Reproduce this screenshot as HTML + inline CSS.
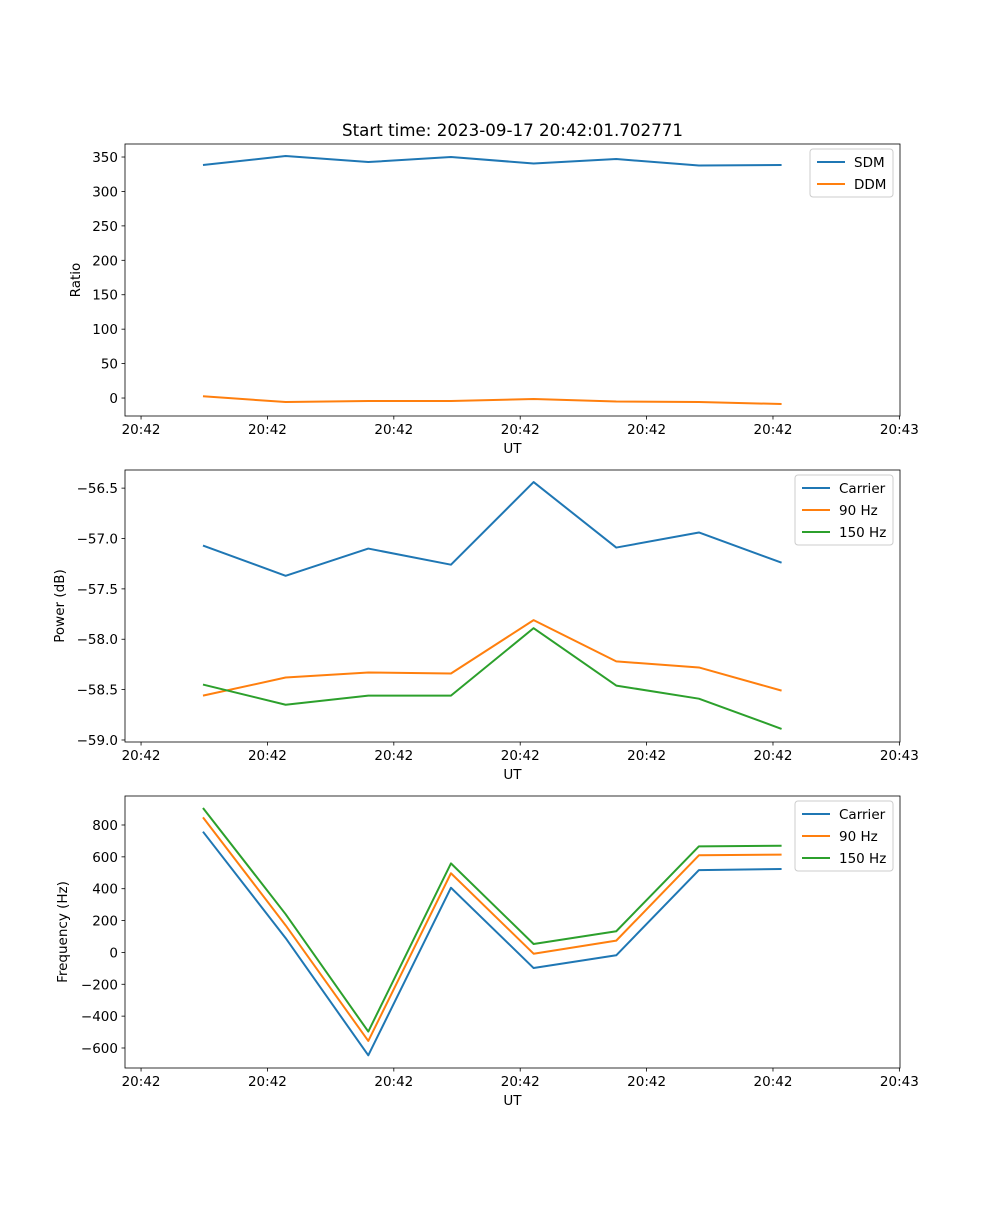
<!DOCTYPE html>
<html><head><meta charset="utf-8"><style>
body{margin:0;background:#fff}
svg text{font-family:"DejaVu Sans","Liberation Sans",sans-serif;fill:#000}
</style></head><body>
<svg id="fig" width="1000" height="1200" viewBox="0 0 1000 1200" xmlns="http://www.w3.org/2000/svg">
<rect width="1000" height="1200" fill="#fff"/>
<text x="512.5" y="136" font-size="16.7" text-anchor="middle">Start time: 2023-09-17 20:42:01.702771</text>
</svg>
<script>
// time in seconds from first tick
const times = [4.9, 11.44, 17.98, 24.52, 31.06, 37.6, 44.14, 50.68];
const xTickVals = [0, 10, 20, 30, 40, 50, 60];
const xTickLabels = ["20:42","20:42","20:42","20:42","20:42","20:42","20:43"];
const sdm = [338.4, 351.4, 342.7, 350, 340.6, 347.1, 337.6, 338.4];
const ddm = [2.5, -5.8, -4.4, -4.4, -1.5, -5, -5.8, -8.7];
const powCarrier = [-57.07, -57.37, -57.10, -57.26, -56.44, -57.09, -56.94, -57.24];
const pow90 = [-58.56, -58.38, -58.33, -58.34, -57.81, -58.22, -58.28, -58.51];
const pow150 = [-58.45, -58.65, -58.56, -58.56, -57.89, -58.46, -58.59, -58.89];
const freqCarrier = [758, 90, -646, 406, -98, -18, 517, 524];
const freq90 = [848, 170, -556, 497, -8, 74, 610, 614];
const freq150 = [907, 240, -497, 559, 53, 133, 666, 670];
const ratioTicks = [0, 50, 100, 150, 200, 250, 300, 350];
const powTicks = [-59.0, -58.5, -58.0, -57.5, -57.0, -56.5];
const freqTicks = [-600, -400, -200, 0, 200, 400, 600, 800];

const NS = "http://www.w3.org/2000/svg";
const svg = document.getElementById("fig");
const C = {blue:"#1f77b4", orange:"#ff7f0e", green:"#2ca02c"};
function mk(tag, attrs, parent){const e=document.createElementNS(NS,tag);for(const k in attrs)e.setAttribute(k,attrs[k]);(parent||svg).appendChild(e);return e;}

function panel(id, top, yMin, yMax, yTicks, fmt, ylabel, series, legend){
  const L=125,R=900,T=top,B=top+272;
  const g=mk("g",{});
  
  
  const xs=v=>L+(v-(-1.27))/(60.05-(-1.27))*(R-L);
  const ys=v=>B-(v-yMin)/(yMax-yMin)*(B-T);
  series.forEach(s=>{
    const pts=times.map((t,i)=>xs(t).toFixed(2)+","+ys(s.vals[i]).toFixed(2)).join(" ");
    const pl=mk("polyline",{points:pts,fill:"none",stroke:s.color,"stroke-width":2,"stroke-linejoin":"round"},g);
    
    
  });
  const fr=mk("rect",{x:L,y:T,width:R-L,height:B-T,fill:"none",stroke:"#000","stroke-width":0.8},g);
  
  
  xTickVals.forEach((v,i)=>{
    const x=xs(v);
    mk("line",{x1:x,x2:x,y1:B,y2:B+3.5,stroke:"#000","stroke-width":0.8},g);
    const t=mk("text",{x:x,y:B+18,"font-size":13.5,"text-anchor":"middle"},g);
    t.textContent=xTickLabels[i];
    
    
  });
  yTicks.forEach(v=>{
    const y=ys(v);
    mk("line",{x1:L-3.5,x2:L,y1:y,y2:y,stroke:"#000","stroke-width":0.8},g);
    const t=mk("text",{x:L-7,y:y+5,"font-size":13.5,"text-anchor":"end"},g);
    t.textContent=fmt(v);
    
    
  });
  const xl=mk("text",{x:(L+R)/2,y:B+37,"font-size":13.5,"text-anchor":"middle"},g);
  xl.textContent="UT";
  
  
  const yl=mk("text",{x:legend.ylx,y:(T+B)/2,"font-size":13.5,"text-anchor":"middle",transform:`rotate(-90 ${legend.ylx} ${(T+B)/2})`},g);
  yl.textContent=ylabel;
  
  
  const lg=mk("g",{},g);
  
  
  const h=series.length*22+4;
  mk("rect",{x:legend.x,y:T+5,width:R-7-legend.x,height:h,rx:3,fill:"#fff","fill-opacity":0.8,stroke:"#ccc","stroke-width":1},lg);
  series.forEach((s,i)=>{
    const y=T+5+13+i*22;
    mk("line",{x1:legend.x+7,x2:legend.x+35,y1:y,y2:y,stroke:s.color,"stroke-width":2},lg);
    const t=mk("text",{x:legend.x+44,y:y+5,"font-size":13.5},lg);
    t.textContent=s.name;
    
    
  });
}
panel("ratio",144,-26.1,368.9,ratioTicks,v=>String(v),"Ratio",
  [{key:"sdm",name:"SDM",vals:sdm,color:C.blue},{key:"ddm",name:"DDM",vals:ddm,color:C.orange}],{x:810,ylx:80});
panel("power",470,-59.02,-56.32,powTicks,v=>(v<0?"\u2212":"")+Math.abs(v).toFixed(1),"Power (dB)",
  [{key:"carrier",name:"Carrier",vals:powCarrier,color:C.blue},{key:"90hz",name:"90 Hz",vals:pow90,color:C.orange},{key:"150hz",name:"150 Hz",vals:pow150,color:C.green}],{x:795,ylx:64});
panel("frequency",796,-725.6,982,freqTicks,v=>(v<0?"\u2212":"")+Math.abs(v),"Frequency (Hz)",
  [{key:"carrier",name:"Carrier",vals:freqCarrier,color:C.blue},{key:"90hz",name:"90 Hz",vals:freq90,color:C.orange},{key:"150hz",name:"150 Hz",vals:freq150,color:C.green}],{x:795,ylx:67});
</script>
</body></html>
